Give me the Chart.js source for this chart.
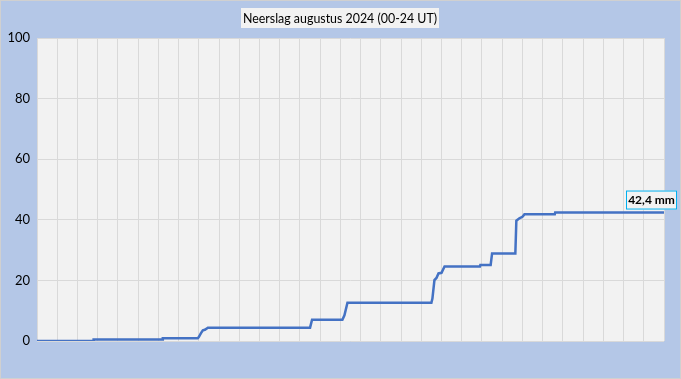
<!DOCTYPE html>
<html>
<head>
<meta charset="utf-8">
<script src="https://cdn.jsdelivr.net/npm/chart.js@4"></script>
<style>
  html, body { margin: 0; padding: 0; background: #d9d9d9; }
  #wrap { width: 679px; height: 377px; border: 1px solid #d0d0d0; background: #b4c7e7; }
</style>
</head>
<body>
<div id="wrap"><canvas id="rainChart" width="679" height="377"></canvas></div>
<script>
// neerslag augustus 2024, cumulatief (dag van de maand, mm)
const days = [0, 2.78, 2.8, 6.2, 6.22, 7.95, 8.0, 8.1, 8.2, 8.3, 8.45, 13.5, 13.6, 15.1, 15.2, 15.35,
    19.5, 19.55, 19.65, 19.75, 19.85, 20.0, 20.15, 21.9, 21.92, 22.43, 22.5, 23.65, 23.7, 23.85, 24.0, 24.1,
    25.6, 25.62, 31];
const rain = [0, 0, 0.5, 0.5, 0.9, 0.9, 1.3, 2.5, 3.5, 3.7, 4.4, 4.4, 7.0, 7.0, 8.5, 12.6,
    12.6, 14, 20.1, 20.8, 22.3, 22.5, 24.6, 24.6, 25.1, 25.1, 28.9, 28.9, 39.7, 40.5, 41.0, 41.8,
    41.8, 42.4, 42.4];
const yTicks = [0, 20, 40, 60, 80, 100];
const title = 'Neerslag augustus 2024 (00-24 UT)';

const points = days.map((d, i) => ({ x: d, y: rain[i] }));

// achtergrond van het plotgebied + titelvak + eindlabel
const decor = {
    id: 'decor',
    beforeDraw(chart) {
        const { ctx, chartArea: a } = chart;
        ctx.save();
        ctx.fillStyle = '#f2f2f2';
        ctx.fillRect(a.left, a.top, a.right - a.left, a.bottom - a.top);
        ctx.restore();
    },
    afterDraw(chart) {
        const ctx = chart.ctx;
        ctx.save();
        // titel
        ctx.font = '12.4px Lato, sans-serif';
        ctx.fillStyle = '#f2f2f2';
        ctx.fillRect(240, 7, 198, 20);
        ctx.fillStyle = '#000';
        ctx.textAlign = 'center';
        ctx.textBaseline = 'middle';
        ctx.fillText(title, 339, 17.5);
        // eindlabel
        const last = rain[rain.length - 1];
        const xs = chart.scales.x, ys = chart.scales.y;
        const px = xs.getPixelForValue(days[days.length - 1]);
        const py = ys.getPixelForValue(last);
        const txt = last.toFixed(1).replace('.', ',') + ' mm';
        ctx.font = 'bold 12px Lato, sans-serif';
        ctx.fillStyle = '#f2f2f2';
        ctx.fillRect(px - 38, py - 22, 51, 19);
        ctx.strokeStyle = '#00b0f0';
        ctx.lineWidth = 1;
        ctx.strokeRect(px - 37.5, py - 21.5, 50, 18);
        ctx.fillStyle = '#000';
        ctx.fillText(txt, px - 12.5, py - 12);
        ctx.restore();
    }
};

const ctx = document.getElementById('rainChart').getContext('2d');
new Chart(ctx, {
    type: 'line',
    data: {
        datasets: [{
            data: points,
            borderColor: '#4472c4',
            borderWidth: 2.5,
            pointRadius: 0,
            tension: 0,
            fill: false,
        }]
    },
    options: {
        responsive: false,
        animation: false,
        layout: { padding: { left: 0, top: 37, right: 16, bottom: 37 } },
        plugins: {
            legend: { display: false },
            tooltip: { enabled: false }
        },
        scales: {
            x: {
                type: 'linear',
                min: 0,
                max: 31,
                ticks: { display: false, stepSize: 1 },
                grid: { color: '#d9d9d9', drawTicks: false },
                border: { display: false },
                afterFit(s) { s.height = 0; }
            },
            y: {
                min: 0,
                max: 100,
                afterBuildTicks(s) { s.ticks = yTicks.map(v => ({ value: v })); },
                ticks: { color: '#000', padding: 7, font: { family: 'Lato', size: 13 } },
                grid: { color: '#d9d9d9', drawTicks: false },
                border: { display: false },
                afterFit(s) { s.width = 36; }
            }
        }
    },
    plugins: [decor]
});
</script>
</body>
</html>
